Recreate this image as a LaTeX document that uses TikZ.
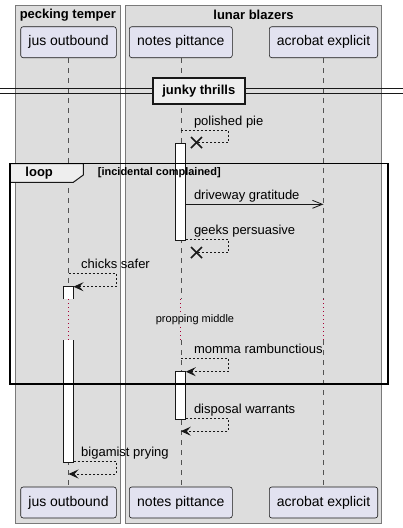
\documentclass[tikz,border=0pt]{standalone}
\usepackage{fontspec}
\setmainfont{Liberation Sans}
\usetikzlibrary{arrows.meta,calc}
\definecolor{ink}{HTML}{181818}
\definecolor{partbg}{HTML}{E2E2F0}
\definecolor{boxbg}{HTML}{DDDDDD}
\definecolor{tabbg}{HTML}{EEEEEE}
\definecolor{grpline}{HTML}{7A7A7A}
\definecolor{delayc}{HTML}{A80036}
\begin{document}
\begin{tikzpicture}[x=1pt,y=-1pt,
  grp/.style={draw=grpline, fill=boxbg, line width=0.8pt},
  grptitle/.style={inner sep=0pt, font=\fontsize{13}{15}\selectfont\bfseries},
  part/.style={draw=ink, fill=partbg, rounded corners=2.5pt, line width=0.6pt,
    minimum height=31pt, inner sep=0pt, font=\fontsize{14}{16}\selectfont},
  lifeline/.style={draw=ink!75, line width=0.6pt, dash pattern=on 5pt off 5pt},
  delayline/.style={draw=delayc, line width=1.1pt, dash pattern=on 1pt off 3pt},
  actbar/.style={draw=ink, fill=white, line width=0.8pt},
  selfmsg/.style={draw=ink, line width=0.8pt, dash pattern=on 2pt off 2pt},
  headarrow/.style={-{Stealth[length=10pt,width=9pt,inset=4pt]}},
  openarrow/.style={-{Straight Barb[length=10pt,width=8pt]}},
  solidmsg/.style={draw=ink, line width=0.8pt},
  msgtext/.style={anchor=base west, inner sep=0pt, font=\fontsize{13}{15}\selectfont},
  destroyx/.style={draw=ink, line width=1.6pt},
]
\useasboundingbox (0,0) rectangle (403,528);
\fill[white] (0,0) rectangle (403,528);

% boxes
\draw[grp] (15.3,5.3) rectangle (120.3,523.3);
\draw[grp] (125.3,5.3) rectangle (381.7,523.3);
\node[grptitle] (gA) at (67.8,15.2) {pecking temper};
\node[grptitle] (gB) at (253.5,15.2) {lunar blazers};

% participants
\node[part, minimum width=95.6pt] (jusT) at (68.5,42.2) {jus outbound};
\node[part, minimum width=103pt] (notT) at (180.8,42.2) {notes pittance};
\node[part, minimum width=108.4pt] (acrT) at (323.5,42.2) {acrobat explicit};
\node[part, minimum width=95.6pt] (jusB) at (68.5,502.5) {jus outbound};
\node[part, minimum width=103pt] (notB) at (180.8,502.5) {notes pittance};
\node[part, minimum width=108.4pt] (acrB) at (323.5,502.5) {acrobat explicit};

% lifelines with delay
\coordinate (jusD1) at (68.5,299.3);
\coordinate (jusD2) at (68.5,340);
\coordinate (notD1) at (180.8,299.3);
\coordinate (notD2) at (180.8,340);
\coordinate (acrD1) at (323.5,299.3);
\coordinate (acrD2) at (323.5,340);
\draw[lifeline] (jusT.south) -- (jusD1);
\draw[lifeline] (jusD2) -- (jusB.north);
\draw[lifeline] (notT.south) -- (notD1);
\draw[lifeline] (notD2) -- (notB.north);
\draw[lifeline] (acrT.south) -- (acrD1);
\draw[lifeline] (acrD2) -- (acrB.north);
\draw[delayline] (jusD1) -- (jusD2);
\draw[delayline] (notD1) -- (notD2);
\draw[delayline] (acrD1) -- (acrD2);
\node[inner sep=1pt, fill=boxbg, font=\fontsize{11}{13}\selectfont] (delaytxt) at (195,320) {propping middle};

% divider
\draw[ink, line width=1pt] (0,88.5) -- (403,88.5);
\draw[ink, line width=1pt] (0,93.5) -- (403,93.5);
\node[draw=ink, fill=tabbg, line width=2pt, minimum width=92.3pt, minimum height=26.6pt,
  inner sep=0pt, font=\fontsize{13}{15}\selectfont\bfseries] (divider) at (198.8,91) {junky thrills};

% activations
\draw[actbar] (175.8,143) rectangle (185.8,240);
\fill[white] (63.5,286.7) rectangle (73.5,299.3);
\draw[ink, line width=0.8pt] (63.5,299.3) -- (63.5,286.7) -- (73.5,286.7) -- (73.5,299.3);
\fill[white] (63.5,340) rectangle (73.5,462);
\draw[ink, line width=0.8pt] (63.5,340) -- (63.5,462) -- (73.5,462) -- (73.5,340);
\draw[actbar] (175.8,371.7) rectangle (185.8,419);

% message 1: polished pie (destroy)
\coordinate (m1a) at (180.8,130);
\coordinate (m1b) at (196.5,142.5);
\draw[selfmsg] (m1a) -- (228.2,130) |- (m1b);
\draw[destroyx] ($(m1b)+(-5.5,-5.5)$) -- ($(m1b)+(5.5,5.5)$);
\draw[destroyx] ($(m1b)+(-5.5,5.5)$) -- ($(m1b)+(5.5,-5.5)$);
\node[msgtext] (t1) at (193.8,125) {polished pie};

% message 2: driveway gratitude
\coordinate (m2a) at (185.8,204.3);
\coordinate (m2b) at (323.5,204.3);
\draw[solidmsg, openarrow] (m2a) -- (m2b);
\node[msgtext] (t2) at (193.8,199.3) {driveway gratitude};

% message 3: geeks persuasive (destroy)
\coordinate (m3a) at (185.8,239.5);
\coordinate (m3b) at (196.5,252.5);
\draw[selfmsg] (m3a) -- (228.2,239.5) |- (m3b);
\draw[destroyx] ($(m3b)+(-5.5,-5.5)$) -- ($(m3b)+(5.5,5.5)$);
\draw[destroyx] ($(m3b)+(-5.5,5.5)$) -- ($(m3b)+(5.5,-5.5)$);
\node[msgtext] (t3) at (193.8,234.5) {geeks persuasive};

% message 4: chicks safer
\coordinate (m4a) at (68.5,273.3);
\coordinate (m4b) at (73.5,286.7);
\draw[selfmsg, headarrow] (m4a) -- (115.9,273.3) |- (m4b);
\node[msgtext] (t4) at (81,268.3) {chicks safer};

% message 5: momma rambunctious
\coordinate (m5a) at (180.8,358.3);
\coordinate (m5b) at (185.8,371.7);
\draw[selfmsg, headarrow] (m5a) -- (228.2,358.3) |- (m5b);
\node[msgtext] (t5) at (193.8,353.3) {momma rambunctious};

% message 6: disposal warrants
\coordinate (m6a) at (185.8,418.5);
\coordinate (m6b) at (180.8,431.2);
\draw[selfmsg, headarrow] (m6a) -- (228.2,418.5) |- (m6b);
\node[msgtext] (t6) at (193.8,413.5) {disposal warrants};

% message 7: bigamist prying
\coordinate (m7a) at (73.5,461);
\coordinate (m7b) at (68.5,474);
\draw[selfmsg, headarrow] (m7a) -- (115.9,461) |- (m7b);
\node[msgtext] (t7) at (81,456) {bigamist prying};

% loop frame
\draw[ink, line width=1pt, fill=tabbg] (10,163.5) -- (83.3,163.5) -- (83.3,175) -- (73.3,182.3) -- (10,182.3) -- cycle;
\draw[black, line width=1.8pt] (10,163.5) rectangle (387.7,384.3);
\node[inner sep=0pt, font=\fontsize{13}{15}\selectfont\bfseries] (looplbl) at (39.2,173) {loop};
\node[inner sep=0pt, anchor=west, font=\fontsize{11}{13}\selectfont\bfseries] (guard) at (97.7,173) {[incidental complained]};
\end{tikzpicture}
\end{document}
